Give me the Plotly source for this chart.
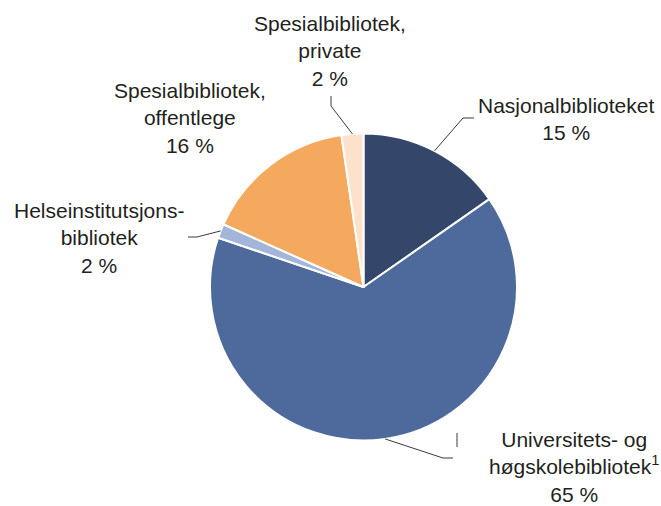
import math
import plotly.graph_objects as go

W, H = 661, 506

categories = [
    "Nasjonalbiblioteket",
    "Universitets- og høgskolebibliotek",
    "Helseinstitutsjonsbibliotek",
    "Spesialbibliotek, offentlege",
    "Spesialbibliotek, private",
]
values = [15.3, 64.9, 1.5, 16.0, 2.3]
percent_labels = ["15 %", "65 %", "2 %", "16 %", "2 %"]
label_texts = [
    "Nasjonalbiblioteket",
    "Universitets- og<br>høgskolebibliotek<sup>1</sup>",
    "Helseinstitutsjons-<br>bibliotek",
    "Spesialbibliotek,<br>offentlege",
    "Spesialbibliotek,<br>private",
]
colors = ["#344669", "#4e6a9d", "#a3b6da", "#f5a95f", "#fde1ca"]

# pie geometry (window pixels)
cx, cy, r = 363.5, 287, 153.5

def px(x):
    return x / W

def py(y):
    return 1 - y / H

fig = go.Figure()
fig.add_trace(go.Pie(
    labels=categories,
    values=values,
    sort=False,
    direction="clockwise",
    rotation=0,
    textinfo="none",
    hoverinfo="label+percent",
    marker=dict(colors=colors, line=dict(color="white", width=2)),
    domain=dict(x=[px(cx - r), px(cx + r)], y=[py(cy + r), py(cy - r)]),
    showlegend=False,
))

# label positions (pixel centres) and leader line bends
label_pos = [(566, 119), (574, 466.5), (99, 237.5), (190, 117.5), (330, 51.5)]
leader_bends = [
    [(463, 118), (474, 118)],
    [(443, 458), (453, 458)],
    [(197, 237), (188, 237)],
    None,
    [(331, 106), (331, 96)],
]

total = sum(values)
cum = 0
shapes = []
annotations = []
for i, v in enumerate(values):
    mid = (cum + v / 2) / total * 2 * math.pi
    cum += v
    sx = cx + r * math.sin(mid)
    sy = cy - r * math.cos(mid)
    bends = leader_bends[i]
    if bends:
        pts = [(sx, sy)] + bends
        path = "M " + " L ".join(f"{px(x):.5f},{py(y):.5f}" for x, y in pts)
        shapes.append(dict(type="path", path=path, xref="paper", yref="paper",
                           line=dict(color="#3a3a3a", width=1)))
    lx, ly = label_pos[i]
    annotations.append(dict(
        x=px(lx), y=py(ly), xref="paper", yref="paper",
        xanchor="center", yanchor="middle", align="center",
        text=label_texts[i] + "<br>" + percent_labels[i],
        showarrow=False,
        font=dict(family="Liberation Sans, Arial, sans-serif", size=21, color="#231f20"),
    ))

# small tick near the lower-right label
shapes.append(dict(type="line", xref="paper", yref="paper",
                   x0=px(457), x1=px(457), y0=py(433), y1=py(447),
                   line=dict(color="#3a3a3a", width=1)))

fig.update_layout(
    width=W, height=H,
    margin=dict(l=0, r=0, t=0, b=0),
    paper_bgcolor="white",
    plot_bgcolor="white",
    shapes=shapes,
    annotations=annotations,
)

fig.write_html(
    "out.html",
    config={"displayModeBar": False},
    post_script="document.body.style.margin='0';document.body.style.overflow='hidden';",
)
